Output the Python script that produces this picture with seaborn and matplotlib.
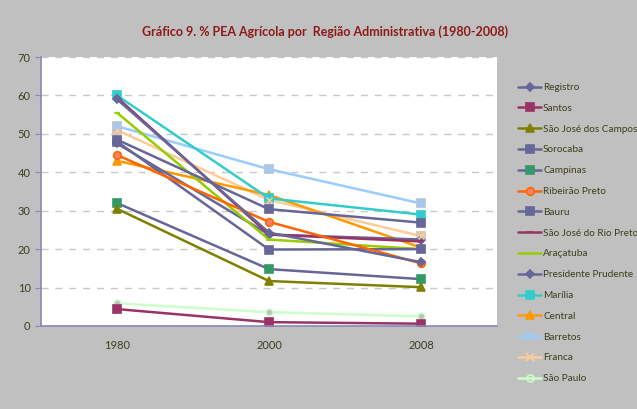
import matplotlib
matplotlib.use("Agg")
import matplotlib.pyplot as plt
from matplotlib.lines import Line2D
import seaborn as sns
import pandas as pd

years = ["1980", "2000", "2008"]
regions = ["Registro", "Santos", "São José dos Campos", "Sorocaba", "Campinas",
           "Ribeirão Preto", "Bauru", "São José do Rio Preto", "Araçatuba",
           "Presidente Prudente", "Marília", "Central", "Barretos", "Franca",
           "São Paulo"]

registro = [59.0, 24.3, 16.6]
santos = [4.4, 1.0, 0.6]
sj_campos = [30.5, 11.7, 10.1]
sorocaba = [48.5, 30.4, 26.9]
campinas = [32.0, 14.8, 12.2]
ribeirao = [44.5, 27.1, 16.3]
bauru = [48.0, 19.9, 20.0]
sj_rio_preto = [59.5, 23.8, 22.0]
aracatuba = [55.5, 22.5, 20.0]
pres_prudente = [47.5, 23.8, 22.5]
marilia = [60.0, 33.2, 29.0]
central = [43.0, 34.1, 20.4]
barretos = [52.0, 40.8, 31.9]
franca = [51.0, 32.8, 23.4]
sao_paulo = [5.9, 3.6, 2.5]

values = [registro, santos, sj_campos, sorocaba, campinas, ribeirao, bauru,
          sj_rio_preto, aracatuba, pres_prudente, marilia, central, barretos,
          franca, sao_paulo]

# line colour, marker, marker face, marker edge, marker size
STYLES = {
    "Registro": ("#666699", "D", "#666699", "#666699", 4.5),
    "Santos": ("#993366", "s", "#993366", "#993366", 5.5),
    "São José dos Campos": ("#808000", "^", "#808000", "#808000", 5.5),
    "Sorocaba": ("#666699", "s", "#666699", "#666699", 5.5),
    "Campinas": ("#666699", "s", "#339966", "#339966", 5.5),
    "Ribeirão Preto": ("#ff6600", "o", "#ff8066", "#ff6600", 5.5),
    "Bauru": ("#666699", "s", "#666699", "#666699", 5.5),
    "São José do Rio Preto": ("#993366", "_", "#993366", "#993366", 4),
    "Araçatuba": ("#99cc00", "_", "#99cc00", "#99cc00", 4),
    "Presidente Prudente": ("#666699", "D", "#666699", "#666699", 4.5),
    "Marília": ("#33cccc", "s", "#33cccc", "#33cccc", 5.5),
    "Central": ("#ff9900", "^", "#ff9900", "#ff9900", 5.5),
    "Barretos": ("#99ccff", "s", "#b4c4d8", "#b4c4d8", 5.5),
    "Franca": ("#ffcc99", "s", "#d8c4b0", "#d8c4b0", 5.5),
    "São Paulo": ("#ccffcc", "o", "#c0c0c0", "#ccffcc", 5),
}
LEGEND_MARKERS = {"Barretos": "x", "Franca": "x", "São Paulo": "o"}

df = pd.DataFrame({
    "region": [r for r in regions for _ in years],
    "pos": [i for _ in regions for i in range(len(years))],
    "value": [v for vals in values for v in vals],
})

sns.set_style("white")
plt.rcParams["font.family"] = ["Lato", "DejaVu Sans"]
gray = "#c0c0c0"
text_col = "#3d3d1f"
axis_col = "#8888bb"

fig = plt.figure(figsize=(6.37, 4.09), dpi=100, facecolor=gray)
ax = fig.add_axes([41 / 637, 1 - 326 / 409, 456 / 637, 269 / 409])
ax.set_facecolor("white")

for reg in regions[::-1]:
    lc, mk, mfc, mec, ms = STYLES[reg]
    sub = df[df["region"] == reg]
    sns.lineplot(data=sub, x="pos", y="value", ax=ax, color=lc, lw=1.8,
                 marker=mk, markersize=ms, markerfacecolor=mfc,
                 markeredgecolor=mec, markeredgewidth=1.2, legend=False)
    if reg in ("Barretos", "Franca"):
        ax.scatter(sub["pos"], sub["value"], marker="x", s=18, color=lc,
                   linewidths=1.1, zorder=5)

ax.set_xlim(-0.5, 2.5)
ax.set_ylim(0, 70)
ax.set_yticks(range(0, 71, 10))
ax.set_xticks(range(len(years)))
ax.set_xticklabels(years)
ax.set_xticks([0.5, 1.5], minor=True)
ax.tick_params(axis="x", which="major", length=0, pad=10, labelsize=8,
               labelcolor=text_col)
ax.tick_params(axis="x", which="minor", length=4, direction="out",
               color=axis_col, width=1)
ax.tick_params(axis="y", length=4, direction="out", color=axis_col,
               labelsize=8, labelcolor=text_col, left=True)
ax.set_xlabel("")
ax.set_ylabel("")
ax.yaxis.grid(True, color="#c8c8c8", linestyle=(0, (5, 5)), lw=1)
ax.set_axisbelow(True)
for side in ("top", "right"):
    ax.spines[side].set_visible(False)
for side in ("left", "bottom"):
    ax.spines[side].set_color(axis_col)
    ax.spines[side].set_linewidth(1.2)

fig.text(0.51, 0.922, "Gráfico 9. % PEA Agrícola por  Região Administrativa (1980-2008)",
         ha="center", va="center", fontsize=9, fontweight="bold",
         color="#8b1a1a")

handles = []
for reg in regions:
    lc, mk, mfc, mec, ms = STYLES[reg]
    lmk = LEGEND_MARKERS.get(reg, mk)
    if reg == "São Paulo":
        mfc = "none"
    elif reg in ("Barretos", "Franca"):
        mfc = mec = lc
    handles.append(Line2D([0], [0], color=lc, lw=1.8, marker=lmk,
                          markersize=ms, markerfacecolor=mfc,
                          markeredgecolor=mec if lmk != "x" else lc,
                          markeredgewidth=1.2))
fig.legend(handles, regions, loc="upper left",
           bbox_to_anchor=(514 / 637, 1 - 79 / 409), frameon=False,
           fontsize=7.2, labelcolor=text_col, handlelength=2.3,
           handletextpad=0.2, labelspacing=1.18, borderaxespad=0)

fig.savefig("out.png", dpi=100, facecolor=gray)
